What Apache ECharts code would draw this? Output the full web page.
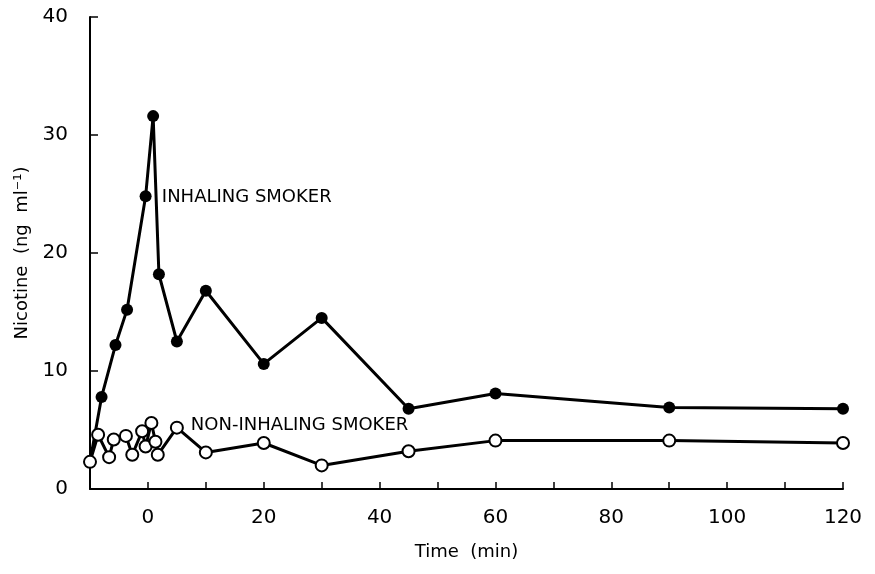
<!DOCTYPE html>
<html lang="en">
<head>
    <meta charset="UTF-8">
    <title>Nicotine</title>
    <script src="https://cdn.jsdelivr.net/npm/echarts@6/dist/echarts.min.js"></script>
</head>
<body style="margin:0;background:#fff">
<div id="main" style="width: 875px;height:574px;"></div>
<script type="text/javascript">
    // time (min) / nicotine (ng/ml)
    var inhalingTime = [-10, -8, -5.6, -3.6, -0.4, 0.9, 1.9, 5, 10, 20, 30, 45, 60, 90, 120];
    var inhalingNic = [2.3, 7.8, 12.2, 15.2, 24.8, 31.6, 18.2, 12.5, 16.8, 10.6, 14.5, 6.8, 8.1, 6.9, 6.8];

    var nonInhalingTime = [-10, -8.6, -6.7, -5.9, -3.8, -2.7, -1, -0.4, 0.6, 1.3, 1.7, 5, 10, 20, 30, 45, 60, 90, 120];
    var nonInhalingNic = [2.3, 4.6, 2.7, 4.2, 4.5, 2.9, 4.9, 3.6, 5.6, 4.0, 2.9, 5.2, 3.1, 3.9, 2.0, 3.2, 4.1, 4.1, 3.9];

    var yTicks = [0, 10, 20, 30, 40];

    function pairs(xs, ys) {
        return xs.map(function (x, i) { return [x, ys[i]]; });
    }

    var font = 'DejaVu Sans';
    var myChart = echarts.init(document.getElementById('main'));

    var option = {
        animation: false,
        backgroundColor: '#fff',
        grid: {left: 90, right: 32, top: 17, bottom: 85},
        xAxis: {
            type: 'value',
            min: -10, max: 120, interval: 10,
            name: 'Time  (min)',
            nameLocation: 'middle',
            nameGap: 54,
            nameTextStyle: {fontFamily: font, fontSize: 18, color: '#000'},
            axisLine: {onZero: false, lineStyle: {color: '#000', width: 2}},
            axisTick: {inside: true, length: 7, lineStyle: {color: '#000', width: 1.5}},
            axisLabel: {
                fontFamily: font, fontSize: 20, color: '#000', margin: 19,
                formatter: function (v) { return v % 20 === 0 ? v : ''; }
            },
            splitLine: {show: false}
        },
        yAxis: {
            type: 'value',
            min: yTicks[0], max: yTicks[yTicks.length - 1], interval: 10,
            name: 'Nicotine  (ng  ml\u207B\u00B9)',
            nameLocation: 'middle',
            nameGap: 59,
            nameTextStyle: {fontFamily: font, fontSize: 18, color: '#000'},
            axisLine: {show: true, onZero: false, lineStyle: {color: '#000', width: 2}},
            axisTick: {show: true, inside: true, length: 8, lineStyle: {color: '#000', width: 1.5}},
            axisLabel: {fontFamily: font, fontSize: 20, color: '#000', margin: 22},
            splitLine: {show: false}
        },
        series: [
            {
                name: 'INHALING SMOKER',
                type: 'line',
                data: pairs(inhalingTime, inhalingNic),
                symbol: 'circle',
                symbolSize: 12,
                itemStyle: {color: '#000'},
                lineStyle: {color: '#000', width: 3},
                markPoint: {
                    symbol: 'circle', symbolSize: 0,
                    data: [{coord: [2.4, 24.7], value: 'INHALING SMOKER'}],
                    label: {
                        show: true, position: 'right', distance: 0,
                        fontFamily: font, fontSize: 18, color: '#000',
                        formatter: '{c}'
                    }
                }
            },
            {
                name: 'NON-INHALING SMOKER',
                type: 'line',
                data: pairs(nonInhalingTime, nonInhalingNic),
                symbol: 'circle',
                symbolSize: 12,
                itemStyle: {color: '#fff', borderColor: '#000', borderWidth: 2},
                lineStyle: {color: '#000', width: 3},
                markPoint: {
                    symbol: 'circle', symbolSize: 0,
                    data: [{coord: [7.4, 5.4], value: 'NON-INHALING SMOKER'}],
                    label: {
                        show: true, position: 'right', distance: 0,
                        fontFamily: font, fontSize: 18, color: '#000',
                        formatter: '{c}'
                    }
                }
            }
        ]
    };

    myChart.setOption(option);
</script>
</body>
</html>
